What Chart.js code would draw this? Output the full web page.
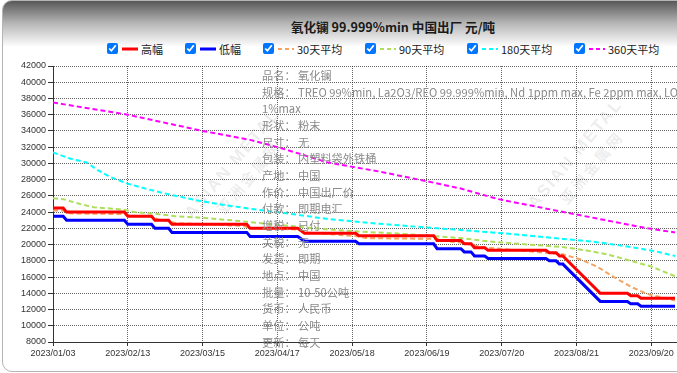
<!DOCTYPE html>
<html>
<head>
<meta charset="utf-8">
<script src="https://cdn.jsdelivr.net/npm/chart.js@4.4.0/dist/chart.umd.min.js"></script>
<style>
  html, body { margin: 0; padding: 0; width: 677px; height: 373px; overflow: hidden; background: #fff;
    font-family: "Noto Sans CJK SC", "Noto Sans", sans-serif; }
  #frame { position: absolute; left: 2px; top: 0; width: 760px; height: 370px; border: 1px solid #b4b4b4;
    border-radius: 10px; background: linear-gradient(#585858 0px, #b5b5b5 22px, #ffffff 46px); }
  #title { position: absolute; left: 193px; top: 18px; width: 400px; text-align: center;
    font-size: 12.6px; font-weight: bold; line-height: 18px; color: #1a1a1a; }
  .item { position: absolute; top: 42px; height: 13px; display: flex; align-items: center;
    font-size: 11px; color: #222; white-space: nowrap; }
  .item input { width: 11px; height: 11px; margin: 0; }
  .item svg { margin-left: 4px; margin-right: 3px; }
  .mark { position: absolute; transform: rotate(-50deg); color: rgba(110,110,110,0.13); text-align: center;
    white-space: nowrap; pointer-events: none; }
  .mark b { display: block; font: bold 17px "Liberation Sans", sans-serif; letter-spacing: 2px; }
  .mark span { display: block; font-size: 15px; font-weight: bold; letter-spacing: 3px; }
  #chart { position: absolute; left: 0; top: 0; }
  #info { position: absolute; left: 262px; top: 67px; font-size: 11.2px; line-height: 16.67px; color: #8a8a8a;
    white-space: nowrap; pointer-events: none; }
  #info i { font-style: normal; display: inline-block; width: 36px; }
</style>
</head>
<body>
<div id="frame"></div>
<div id="title">氧化镧 99.999%min 中国出厂 元/吨</div>
<div id="legend"></div>
<div class="mark" style="left:172px; top:150px;"><b>ASIAN METAL</b><span>亚洲金属网</span></div>
<div class="mark" style="left:515px; top:140px;"><b>ASIAN METAL</b><span>亚洲金属网</span></div>
<canvas id="chart" width="728" height="373"></canvas>
<div id="info"></div>
<script>
// date labels, one every 22 trading days
const tickLabels = ['2023/01/03', '2023/02/13', '2023/03/15', '2023/04/17', '2023/05/18',
  '2023/06/19', '2023/07/20', '2023/08/21', '2023/09/20'];
const daysPerLabel = 22;

// [trading day, price]
const high = [[0,24500],[3,24500],[4,24000],[21,24000],[22,23500],[29,23500],[30,23000],[34,23000],
  [35,22500],[57,22500],[58,22000],[72,22000],[74,21400],[89,21400],[90,21100],[112,21100],
  [113,20500],[120,20500],[121,20100],[123,20100],[124,19600],[127,19600],[128,19300],[145,19300],
  [146,19000],[148,19000],[149,18600],[150,18600],[161,14000],[169,14000],[170,13700],[172,13700],
  [173,13400],[183,13400]];
const low = [[0,23500],[3,23500],[4,23000],[21,23000],[22,22500],[29,22500],[30,22000],[34,22000],
  [35,21500],[57,21500],[58,21000],[72,21000],[74,20400],[89,20400],[90,20100],[112,20100],
  [113,19500],[120,19500],[121,19100],[123,19100],[124,18600],[127,18600],[128,18300],[145,18300],
  [146,18000],[148,18000],[149,17600],[150,17600],[161,13000],[169,13000],[170,12700],[172,12700],
  [173,12400],[183,12400]];
const avg30 = [[0,24200],[3,24200],[5,23850],[21,23750],[23,23550],[29,23450],[31,23100],[34,22900],
  [36,22650],[45,22500],[56,22300],[58,22050],[72,21850],[75,21500],[90,21000],[92,20800],
  [113,20700],[116,20400],[121,20200],[125,19800],[128,19600],[145,19000],[150,18800],[155,18200],
  [160,17300],[165,16000],[170,14800],[175,13900],[179,13500],[183,13100]];
const avg90 = [[0,25700],[3,25600],[8,25000],[12,24600],[21,24300],[24,24000],[30,23800],[36,23500],
  [44,23300],[55,22900],[62,22600],[70,22300],[80,21900],[90,21600],[100,21400],[110,21100],
  [120,20800],[128,20400],[140,20000],[150,19700],[158,19200],[163,18800],[170,18000],[176,17300],
  [183,16100]];
const avg180 = [[0,31350],[5,30600],[10,30100],[13,29200],[17,28300],[22,27500],[28,26800],[35,26100],
  [43,25400],[50,24900],[60,24300],[68,23900],[80,23200],[95,22600],[110,22100],[120,21800],
  [135,21300],[150,20700],[160,20300],[170,19700],[177,19200],[183,18600]];
const avg360 = [[0,37500],[22,36000],[44,34000],[58,32900],[67,31900],[81,30100],[96,29000],
  [110,27800],[120,26900],[131,25600],[154,23700],[175,22000],[183,21500]];

const seriesNames = ['高幅', '低幅', '30天平均', '90天平均', '180天平均', '360天平均'];
const seriesData = [high, low, avg30, avg90, avg180, avg360];

const infoRows = [['品名：', '氧化镧'],
  ['规格：', 'TREO 99%min, La2O3/REO 99.999%min, Nd 1ppm max, Fe 2ppm max, LOI'],
  ['', '1%max'],
  ['形状：', '粉末'], ['尺寸：', '无'], ['包装：', '内塑料袋外铁桶'], ['产地：', '中国'],
  ['作价：', '中国出厂价'], ['付款：', '即期电汇'], ['增税：', '已付'], ['关税：', '无'],
  ['发货：', '即期'], ['地点：', '中国'], ['批量：', '10-50公吨'], ['货币：', '人民币'],
  ['单位：', '公吨'], ['更新：', '每天']];

// styles
const colors = ['#ff0000', '#0000ff', '#f4a460', '#addf5b', '#00ffff', '#ff00ff'];
const legendLeft = [107, 185, 263, 365, 467, 574];

let datasets = seriesData.map((d, i) => ({
  label: seriesNames[i],
  data: d.map(p => ({x: p[0], y: p[1]})),
  borderColor: colors[i],
  backgroundColor: colors[i],
  borderWidth: i < 2 ? 3 : 2,
  borderDash: i < 2 ? [] : [5, 3],
  pointRadius: 0,
  tension: 0,
  fill: false
}));

const tickFont = {family: '"Liberation Sans", Arial, sans-serif', size: 9};

let chart = new Chart(document.getElementById('chart'), {
  type: 'line',
  data: {datasets: datasets},
  options: {
    responsive: false,
    animation: false,
    events: [],
    layout: {padding: {top: 66, left: 0, right: 0, bottom: 0}},
    plugins: {legend: {display: false}, tooltip: {enabled: false}},
    scales: {
      x: {
        type: 'linear', min: 0, max: 198,
        afterFit: s => { s.height = 31; },
        ticks: {stepSize: daysPerLabel, autoSkip: false, maxRotation: 0, includeBounds: false,
          padding: 2, color: '#333', font: tickFont,
          callback: v => tickLabels[v / daysPerLabel] || ''},
        grid: {color: 'rgba(0,0,0,0.6)', tickColor: '#333', tickLength: 4},
        border: {display: true, color: '#333', width: 1, dash: [1, 1]}
      },
      y: {
        min: 8000, max: 42000,
        afterFit: s => { s.width = 53; },
        ticks: {stepSize: 2000, padding: 2, color: '#333', font: tickFont,
          callback: v => String(v)},
        grid: {color: 'rgba(0,0,0,0.6)', tickColor: '#333', tickLength: 5},
        border: {display: true, color: '#333', width: 1, dash: [1, 1]}
      }
    }
  }
});

// legend with check boxes
let legend = document.getElementById('legend');
seriesNames.forEach((name, i) => {
  let item = document.createElement('div');
  item.className = 'item';
  item.style.left = legendLeft[i] + 'px';
  let dash = i < 2 ? '' : ' stroke-dasharray="4 3"';
  item.innerHTML = '<input type="checkbox" checked>' +
    '<svg width="16" height="6"><line x1="0" y1="3" x2="16" y2="3" stroke="' + colors[i] +
    '" stroke-width="' + (i < 2 ? 3 : 2) + '"' + dash + '/></svg>' + name;
  item.querySelector('input').addEventListener('change', e => {
    chart.setDatasetVisibility(i, e.target.checked);
    chart.update();
  });
  legend.appendChild(item);
});

// product notes
document.getElementById('info').innerHTML = infoRows
  .map(r => (r[0] ? '<i>' + r[0] + '</i>' : '') + r[1])
  .join('<br>');
</script>
</body>
</html>
